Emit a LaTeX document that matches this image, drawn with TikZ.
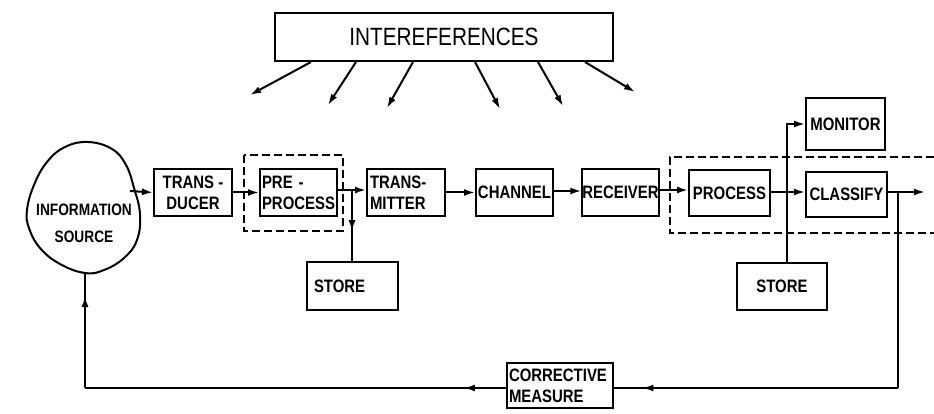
\documentclass[tikz,border=0pt]{standalone}
\usepackage{fontspec}
\setmainfont{Liberation Sans}[FakeStretch=0.83]
\usetikzlibrary{arrows.meta,decorations.markings}
\begin{document}
\begin{tikzpicture}[x=1pt,y=-1pt,line width=2pt,
  box/.style={draw,line width=2pt,inner sep=2pt,font=\fontsize{18}{21}\selectfont\bfseries,align=center},
  lbox/.style={box,align=left},
  arr/.style={-{Latex[length=11pt,width=7pt]}},
  dbox/.style={draw,dash pattern=on 8pt off 4pt,line width=1.8pt},
  midarrow/.style={postaction={decorate},decoration={markings,mark=at position #1 with {\arrow{Latex[length=11pt,width=7pt]}}}}
]
\useasboundingbox (0,0) rectangle (934,414);

% interferences
\node[draw,line width=2pt,minimum width=338pt,minimum height=48pt,font=\fontsize{25}{28}\selectfont] (interf) at (444,37) {INTEREFERENCES};
\coordinate (i1) at (250,95);
\coordinate (i2) at (328,105);
\coordinate (i3) at (387,108);
\coordinate (i4) at (500,109);
\coordinate (i5) at (563,106);
\coordinate (i6) at (635,92);
\draw[arr] ([xshift=-133pt]interf.south) -- (i1);
\draw[arr] ([xshift=-88pt]interf.south) -- (i2);
\draw[arr] ([xshift=-31pt]interf.south) -- (i3);
\draw[arr] ([xshift=31pt]interf.south) -- (i4);
\draw[arr] ([xshift=94pt]interf.south) -- (i5);
\draw[arr] ([xshift=141pt]interf.south) -- (i6);

% information source blob
\draw[line width=2pt] plot[smooth cycle,tension=0.7] coordinates {
  (88,142) (112,149) (126,165) (134,188) (140,214) (137,240) (124,258) (104,270)
  (85,273) (60,264) (40,248) (29,228) (27,210) (34,185) (47,162) (65,147)};
\node[font=\fontsize{16.5}{27}\selectfont\bfseries,align=center,inner sep=0pt] (src) at (84,223) {INFORMATION\\SOURCE};
\coordinate (srcout) at (130,191);
\coordinate (srcin) at (85,273);

% boxes
\node[box,minimum width=78pt,minimum height=47pt] (trans) at (193,192.5) {TRANS -\\DUCER};
\node[lbox,text width=73pt,minimum height=47pt] (pre) at (298.5,192.5) {PRE -\\PROCESS.};
\node[lbox,text width=72pt,minimum height=47pt,inner xsep=3pt] (transm) at (406,192.5) {TRANS-\\MITTER};
\node[box,minimum width=77pt,minimum height=47pt,inner sep=0pt] (channel) at (514.5,192.5) {CHANNEL};
\node[box,minimum width=75pt,minimum height=47pt,inner sep=0pt] (receiver) at (620.5,192.5) {RECEIVER};
\node[box,minimum width=81pt,minimum height=46pt] (process) at (729.5,193) {PROCESS};
\node[box,minimum width=81pt,minimum height=45pt,inner sep=0pt] (classify) at (846.5,194.5) {CLASSIFY};
\node[box,minimum width=79pt,minimum height=52pt] (monitor) at (845.5,124) {MONITOR};
\node[lbox,text width=85pt,minimum height=48pt,inner xsep=3pt] (store1) at (352.5,286) {\hspace*{4pt}STORE};
\node[box,minimum width=90pt,minimum height=47pt] (store2) at (782,286.5) {STORE};
\node[lbox,text width=102pt,minimum height=45pt,inner xsep=2pt] (corr) at (560,385.5) {CORRECTIVE\\MEASURE};

% dashed groupings
\draw[dbox] (244,155) rectangle (343,231);
\draw[dbox] (934,157) -- (670,157) -- (670,233) -- (934,233);

% main chain
\draw[arr] (srcout) -- (trans.west);
\draw[arr] (trans.east) -- (pre.west);
\coordinate (j1) at (352,190);
\draw[arr] (pre.east |- j1) -- (transm.west |- j1);
\draw[midarrow=0.58] (j1) -- (store1.north -| j1);
\draw[arr] (transm.east) -- (channel.west);
\draw[arr] (channel.east |- 0,191) -- (receiver.west |- 0,191);
\draw[arr] (receiver.east |- 0,190) -- (process.west |- 0,190);
\coordinate (j2) at (787,192);
\draw[arr] (process.east |- j2) -- (classify.west |- j2);
\draw[arr] (j2 |- store2.north) |- (monitor.west);
\coordinate (out) at (925,192);
\draw[arr] (classify.east |- out) -- (out);

% feedback
\coordinate (j3) at (898,192);
\coordinate (fb1) at (898,388);
\coordinate (fb2) at (85,388);
\draw (j3) -- (fb1);
\draw[midarrow=0.9] (fb1) -- (corr.east |- fb1);
\draw[midarrow=0.1] (corr.west |- fb2) -- (fb2);
\draw[midarrow=0.8] (fb2) -- (srcin);
\end{tikzpicture}
\end{document}
